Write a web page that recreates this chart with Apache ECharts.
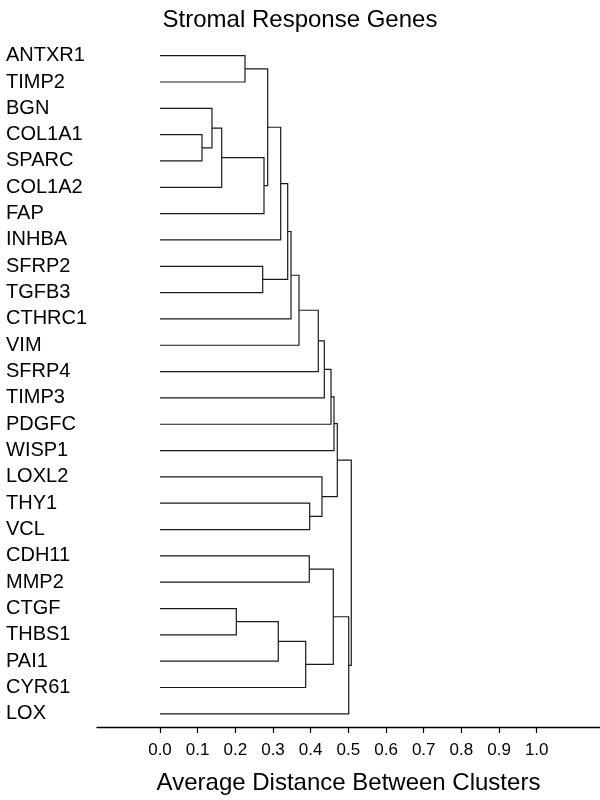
<!DOCTYPE html>
<html>
<head>
<meta charset="utf-8">
<script src="https://cdn.jsdelivr.net/npm/echarts@6/dist/echarts.min.js"></script>
<style>html,body{margin:0;padding:0;background:#fff;}#chart{width:600px;height:800px;}</style>
</head>
<body>
<div id="chart"></div>
<script>
// Leaf labels, top to bottom
var leaves = ["ANTXR1","TIMP2","BGN","COL1A1","SPARC","COL1A2","FAP","INHBA","SFRP2","TGFB3","CTHRC1","VIM","SFRP4","TIMP3","PDGFC","WISP1","LOXL2","THY1","VCL","CDH11","MMP2","CTGF","THBS1","PAI1","CYR61","LOX"];
// Merge steps (hclust style): negative = leaf -(index+1), positive = earlier merge number (1-based)
var mergeLeft  = [-4, -3, 2, -22, -1, -9, 3, 5, 4, 8, 10, 11, 12, 9, -18, -20, 13, -17, 17, 19, 16, 20, 22, 21, 23];
var mergeRight = [-5, 1, -6, -23, -2, -10, -7, 7, -24, -8, 6, -11, -12, -25, -19, -21, -13, 15, -14, -15, 14, -16, 18, -26, 24];
var mergeHeight = [0.1115, 0.138, 0.1638, 0.2026, 0.2256, 0.2726, 0.2761, 0.2859, 0.314, 0.3204, 0.339, 0.3478, 0.369, 0.3868, 0.3974, 0.3963, 0.4202, 0.430, 0.4362, 0.454, 0.460, 0.4619, 0.4707, 0.501, 0.5078];
var tickValues = [0.0, 0.1, 0.2, 0.3, 0.4, 0.5, 0.6, 0.7, 0.8, 0.9, 1.0];

function nodePos(ref, merged) {
  if (ref < 0) return [0, -ref - 1];
  return merged[ref - 1];
}
var merged = [];
var segData = [];
for (var k = 0; k < mergeHeight.length; k++) {
  var a = nodePos(mergeLeft[k], merged);
  var b = nodePos(mergeRight[k], merged);
  var h = mergeHeight[k];
  merged.push([h, (a[1] + b[1]) / 2]);
  segData.push([a[0], a[1], h, b[1], b[0]]);
}

var chart = echarts.init(document.getElementById('chart'), null, {renderer: 'canvas'});
var FONT = 'Liberation Sans, Arial, Helvetica, sans-serif';
chart.setOption({
  animation: false,
  backgroundColor: '#fff',
  title: {
    text: 'Stromal Response Genes',
    left: 'center',
    top: 3,
    textStyle: {fontSize: 24, fontWeight: 'normal', color: '#000', fontFamily: FONT}
  },
  grid: {left: 97, right: 0, top: 42.5, bottom: 70, containLabel: false},
  xAxis: {
    type: 'value',
    min: -0.1672,
    max: 1.168,
    position: 'bottom',
    splitLine: {show: false},
    axisLine: {show: true, onZero: false, lineStyle: {color: '#000', width: 1.3}},
    axisTick: {show: true, customValues: tickValues, length: 6, lineStyle: {color: '#000', width: 1.2}},
    axisLabel: {
      customValues: tickValues,
      formatter: function (v) { return v.toFixed(1); },
      fontSize: 17, color: '#000', fontFamily: FONT, margin: 15
    },
    name: 'Average Distance Between Clusters',
    nameLocation: 'middle',
    nameGap: 44,
    nameTextStyle: {fontSize: 24, color: '#000', fontFamily: FONT}
  },
  yAxis: [{
    type: 'category',
    data: leaves,
    inverse: true,
    axisLine: {show: false},
    axisTick: {show: false},
    splitLine: {show: false},
    axisLabel: {align: 'left', margin: 91, fontSize: 20, color: '#000', fontFamily: FONT, padding: [9, 0, 0, 0]}
  }, {
    type: 'value',
    min: -0.5,
    max: leaves.length - 0.5,
    inverse: true,
    show: false
  }],
  series: [{
    type: 'custom',
    xAxisIndex: 0,
    yAxisIndex: 1,
    data: segData,
    encode: {x: [0, 2, 4], y: [1, 3]},
    renderItem: function (params, api) {
      var p1 = api.coord([api.value(0), api.value(1)]);
      var p2 = api.coord([api.value(2), api.value(1)]);
      var p3 = api.coord([api.value(2), api.value(3)]);
      var p4 = api.coord([api.value(4), api.value(3)]);
      return {
        type: 'polyline',
        shape: {points: [p1, p2, p3, p4]},
        style: {stroke: '#1a1a1a', lineWidth: 1.2, fill: null}
      };
    }
  }]
});
</script>
</body>
</html>
